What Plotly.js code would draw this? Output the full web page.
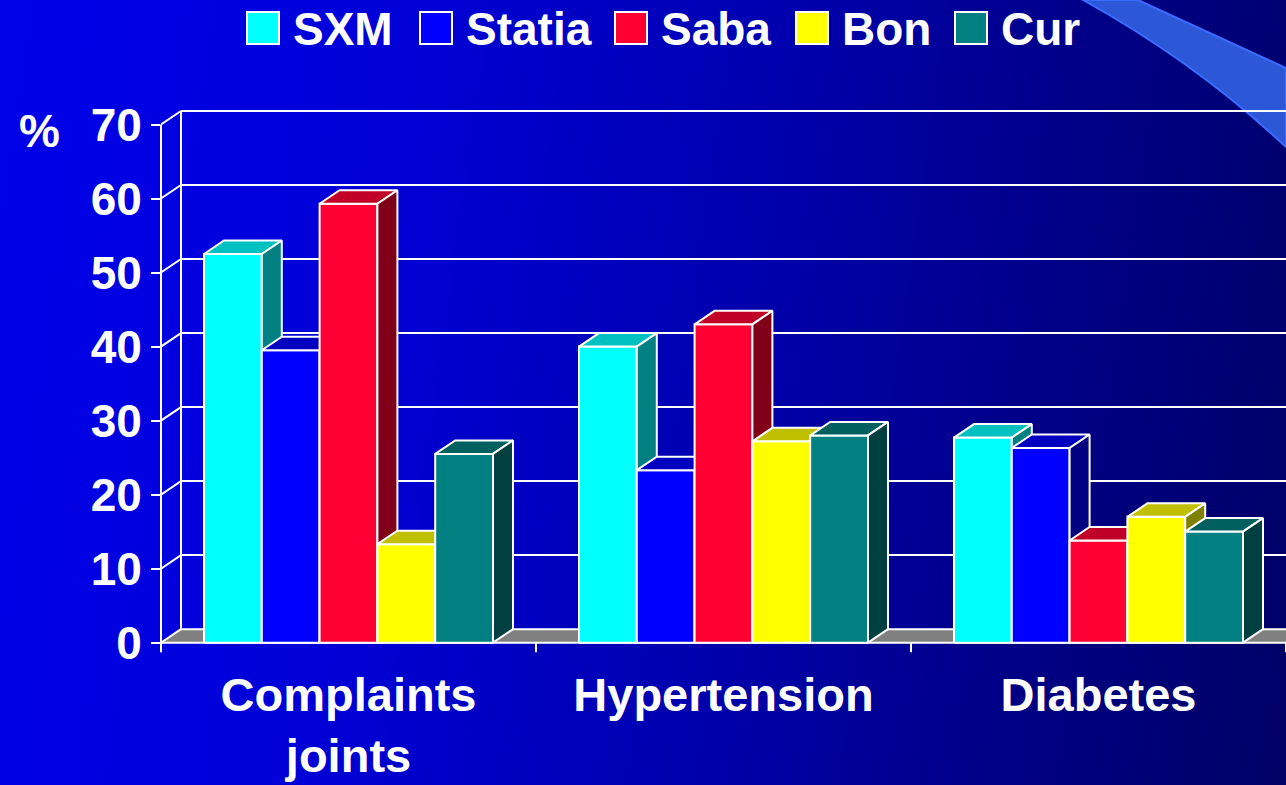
<!DOCTYPE html>
<html>
<head>
<meta charset="utf-8">
<script src="https://cdn.plot.ly/plotly-3.0.1.min.js"></script>
<style>
  html, body { margin:0; padding:0; width:1286px; height:785px; overflow:hidden; }
  body { background: linear-gradient(98deg, #0000ea 0%, #0000d6 30%, #0000b0 55%, #000088 78%, #000066 100%); }
  #chart { width:1286px; height:785px; }
</style>
</head>
<body>
<div id="chart"></div>
<script>
// ---- data ----
const categories = ['Complaints<br>joints', 'Hypertension', 'Diabetes'];
const seriesNames = ['SXM', 'Statia', 'Saba', 'Bon', 'Cur'];
const sxm    = [52.5, 40.0, 27.7];
const statia = [39.5, 23.3, 26.3];
const saba   = [59.3, 43.0, 13.8];
const bon    = [13.3, 27.2, 17.0];
const cur    = [25.5, 28.0, 15.0];
const yTicks = [0, 10, 20, 30, 40, 50, 60, 70];
const yMax = 70;

// ---- styles ----
const series = [sxm, statia, saba, bon, cur];
const faceColors = [
  ['#00ffff', '#00c0c0', '#008080'],
  ['#0000ff', '#0000c0', '#000080'],
  ['#ff0033', '#c00026', '#80001a'],
  ['#ffff00', '#c0c000', '#808000'],
  ['#008080', '#006060', '#004040']
];
const W = 1286, H = 785;
const L = 161, R = 0, T = 106, B = 132;
const PW = W - L - R, PH = H - T - B;
const yRange = [-1.4, 72.5];
const pxPerY = PH / (yRange[1] - yRange[0]);
const DX = 20 / 375;          // depth offset, category units
const DY = 13.5 / pxPerY;     // depth offset, value units
const GROUP = 289 / 375;
const BW = GROUP / series.length;
const FONT = 'Liberation Sans, Arial, Helvetica, sans-serif';

function px2x(px) { return (px - L) / PW; }
function py2y(py) { return (H - B - py) / PH; }

function poly(xs, ys, fill, lw) {
  return {
    type: 'scatter', mode: 'lines',
    x: xs.concat([xs[0]]), y: ys.concat([ys[0]]),
    fill: 'toself', fillcolor: fill,
    line: { color: lw > 0 ? 'white' : fill, width: lw > 0 ? lw : 0 },
    hoverinfo: 'skip', showlegend: false
  };
}
function lines(segs, color, width) {
  const x = [], y = [];
  segs.forEach(s => { x.push(s[0], s[2], null); y.push(s[1], s[3], null); });
  return { type: 'scatter', mode: 'lines', x: x, y: y,
    line: { color: color, width: width }, hoverinfo: 'skip', showlegend: false };
}

const nCat = categories.length;
const traces = [];

// floor
traces.push(poly([0, nCat, nCat + DX, DX], [0, 0, DY, DY], '#808080', 0));

// back wall grid + diagonals + back left edge
const grid = [];
yTicks.forEach(v => {
  grid.push([DX, v + DY, nCat + DX, v + DY]);
  grid.push([0, v, DX, v + DY]);
});
grid.push([DX, DY, DX, yMax + DY]);
traces.push(lines(grid, 'white', 2));

// front x axis line and category boundary ticks
const front = [[0, 0, nCat, 0]];
for (let c = 0; c <= nCat; c++) front.push([c, 0, c, -1.3]);
traces.push(lines(front, 'white', 2));

// bars (painter order: left to right)
for (let c = 0; c < nCat; c++) {
  const start = c + 0.5 - GROUP / 2;
  series.forEach((vals, s) => {
    const v = vals[c];
    const xl = start + s * BW, xr = xl + BW;
    const col = faceColors[s];
    traces.push(poly([xl, xr, xr, xl], [0, 0, v, v], col[0], 2));
    traces.push(poly([xl, xr, xr + DX, xl + DX], [v, v, v + DY, v + DY], col[1], 2));
    traces.push(poly([xr, xr + DX, xr + DX, xr], [0, DY, v + DY, v], col[2], 2));
  });
}

// ---- layout extras: front y axis line, legend, decoration ----
const shapes = [
  { type: 'line', xref: 'paper', yref: 'y', x0: 0, x1: 0, y0: -1.3, y1: yMax,
    line: { color: 'white', width: 2 } },
  { type: 'path', xref: 'paper', yref: 'paper', layer: 'below',
    path: 'M ' + px2x(1083) + ',' + py2y(0) +
          ' Q ' + px2x(1195) + ',' + py2y(62) + ' ' + px2x(1286) + ',' + py2y(147) +
          ' L ' + px2x(1286) + ',' + py2y(68) +
          ' L ' + px2x(1138) + ',' + py2y(0) + ' Z',
    fillcolor: '#2c58d8', line: { color: '#3a6cff', width: 2 } }
];
const annotations = [
  { xref: 'paper', yref: 'paper', x: px2x(39), y: py2y(131), text: '%',
    showarrow: false, xanchor: 'center', yanchor: 'middle',
    font: { family: FONT, size: 46, color: 'white', weight: 'bold' } }
];
const swatchX = [247, 420, 615, 796, 955];
seriesNames.forEach((name, s) => {
  const x0 = swatchX[s];
  shapes.push({ type: 'rect', xref: 'paper', yref: 'paper',
    x0: px2x(x0), x1: px2x(x0 + 32), y0: py2y(44), y1: py2y(12),
    fillcolor: faceColors[s][0], line: { color: 'white', width: 2 } });
  annotations.push({ xref: 'paper', yref: 'paper', x: px2x(x0 + 44), y: py2y(29),
    text: name, showarrow: false, xanchor: 'left', yanchor: 'middle',
    font: { family: FONT, size: 46, color: 'white', weight: 'bold' } });
});

const layout = {
  width: W, height: H,
  margin: { l: L, r: R, t: T, b: B, pad: 0 },
  paper_bgcolor: 'rgba(0,0,0,0)', plot_bgcolor: 'rgba(0,0,0,0)',
  showlegend: false,
  xaxis: {
    range: [0, nCat], tickmode: 'array',
    tickvals: categories.map((_, i) => i + 0.5), ticktext: categories,
    ticks: '', showgrid: false, zeroline: false, showline: false,
    tickfont: { family: FONT, size: 47, color: 'white', weight: 'bold' },
    ticklabelstandoff: 10, fixedrange: true
  },
  yaxis: {
    range: yRange, tickmode: 'array', tickvals: yTicks,
    ticktext: yTicks.map(String),
    ticks: 'outside', ticklen: 9, tickwidth: 2, tickcolor: 'white',
    showgrid: false, zeroline: false, showline: false,
    tickfont: { family: FONT, size: 46, color: 'white', weight: 'bold' },
    fixedrange: true
  },
  shapes: shapes,
  annotations: annotations
};

Plotly.newPlot('chart', traces, layout, { displayModeBar: false, staticPlot: true });
</script>
</body>
</html>
